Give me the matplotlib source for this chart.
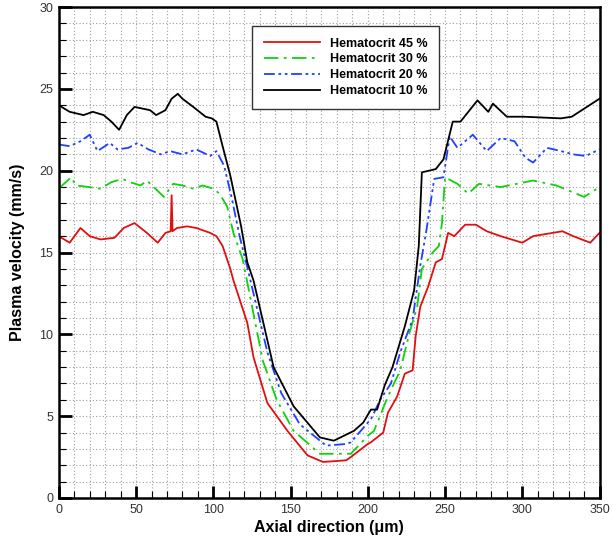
import matplotlib
matplotlib.use("Agg")
import matplotlib.pyplot as plt
from matplotlib.ticker import MultipleLocator

plt.rcParams['font.family'] = ['Liberation Sans', 'DejaVu Sans']

# ---------------------------------------------------------------------
# Data
# ---------------------------------------------------------------------

red_x = [0, 7, 14, 20, 27, 36, 42, 49, 57, 64, 69, 72.4, 73, 73.6, 76.5, 83, 89, 98,
         102, 106, 111, 113, 122, 126, 135, 148, 161, 171, 186, 189, 200, 202, 210,
         213, 219, 224, 229, 231, 234, 239, 244, 248, 252, 256, 263, 270, 277, 286,
         300, 307, 326, 333, 344, 350]
red_y = [16.0, 15.6, 16.5, 16.0, 15.8, 15.9, 16.5, 16.8, 16.2, 15.6, 16.2, 16.3, 18.5,
         16.3, 16.5, 16.6, 16.5, 16.2, 16.0, 15.4, 14.0, 13.3, 10.7, 8.6, 5.8, 4.1,
         2.6, 2.2, 2.3, 2.5, 3.3, 3.4, 4.0, 5.2, 6.2, 7.6, 7.8, 9.9, 11.7, 12.9, 14.4,
         14.6, 16.2, 16.0, 16.7, 16.7, 16.3, 16.0, 15.6, 16.0, 16.3, 16.0, 15.6, 16.2]

green_x = [0, 1, 8, 11, 20, 27, 34, 41, 46, 53, 57, 68, 74, 80, 87, 93, 100, 104, 109,
           113, 119, 132, 141, 152, 169, 181, 189, 200, 204, 213, 221, 227, 232, 235,
           242, 246, 248, 250, 258, 265, 272, 286, 307, 322, 340, 350]
green_y = [19.0, 19.0, 19.6, 19.1, 19.0, 18.9, 19.3, 19.5, 19.3, 19.1, 19.4, 18.4, 19.2,
           19.1, 18.9, 19.1, 18.9, 18.6, 17.8, 16.2, 14.6, 8.4, 6.0, 4.1, 2.7, 2.7, 2.7,
           3.8, 4.1, 6.2, 7.8, 10.1, 11.7, 14.0, 15.0, 15.4, 16.8, 19.6, 19.2, 18.6,
           19.2, 19.0, 19.4, 19.1, 18.4, 19.0]

blue_x = [0, 7, 14, 20, 25, 33, 38, 45, 51, 58, 66, 72, 80, 89, 98, 102, 107, 112, 117,
          122, 135, 144, 156, 173, 186, 189, 200, 202, 208, 215, 221, 229, 234, 238,
          243, 249, 253, 258, 268, 277, 286, 295, 302, 307, 316, 325, 333, 341, 350]
blue_y = [21.6, 21.5, 21.8, 22.2, 21.2, 21.7, 21.3, 21.4, 21.7, 21.3, 21.0, 21.2, 21.0,
          21.3, 20.9, 21.2, 20.3, 18.3, 16.0, 14.1, 8.9, 6.4, 4.5, 3.2, 3.3, 3.4, 4.6,
          4.8, 6.0, 7.0, 8.9, 10.9, 14.2, 16.4, 19.5, 19.6, 22.1, 21.4, 22.2, 21.2,
          22.0, 21.8, 20.8, 20.5, 21.4, 21.2, 21.0, 20.9, 21.3]

black_x = [0, 7, 16, 22, 29, 34, 39, 44, 49, 59, 63, 69, 73, 77, 80, 87, 95, 99, 102,
           106, 111, 118, 122, 126, 139, 152, 169, 178, 191, 197, 202, 206, 211, 216,
           224, 230, 233, 235, 244, 249, 255, 260, 271, 278, 281, 290, 301, 325, 332, 350]
black_y = [24.0, 23.6, 23.4, 23.6, 23.4, 23.0, 22.5, 23.4, 23.9, 23.7, 23.4, 23.7, 24.4,
           24.7, 24.4, 23.9, 23.3, 23.2, 23.0, 21.5, 19.7, 16.6, 14.4, 13.3, 8.0, 5.6,
           3.7, 3.5, 4.1, 4.6, 5.4, 5.4, 6.9, 8.0, 10.5, 12.7, 15.4, 19.9, 20.1, 20.7,
           23.0, 23.0, 24.3, 23.6, 24.1, 23.3, 23.3, 23.2, 23.3, 24.4]

labels = ["Hematocrit 45 %", "Hematocrit 30 %", "Hematocrit 20 %", "Hematocrit 10 %"]


# ---------------------------------------------------------------------
# Plot
# ---------------------------------------------------------------------

fig = plt.figure(figsize=(6.13, 5.46), dpi=100)
ax = fig.add_axes([0.096, 0.088, 0.882, 0.899])

ax.plot(red_x, red_y, color="#e01010", lw=1.3, label=labels[0])
ax.plot(green_x, green_y, color="#10d010", lw=1.3, dashes=(8, 3, 1.5, 3),
        label=labels[1])
ax.plot(blue_x, blue_y, color="#2040ff", lw=1.3, dashes=(6, 2, 1.5, 2, 1.5, 2),
        label=labels[2])
ax.plot(black_x, black_y, color="black", lw=1.3, label=labels[3])

ax.set_xlim(0, 350)
ax.set_ylim(0, 30)

ax.xaxis.set_major_locator(MultipleLocator(50))
ax.xaxis.set_minor_locator(MultipleLocator(10))
ax.yaxis.set_major_locator(MultipleLocator(5))
ax.yaxis.set_minor_locator(MultipleLocator(1))

ax.grid(True, which="both", color="#a0a0a0", linestyle=(0, (1, 2)), lw=0.8)
ax.tick_params(which="major", direction="in", length=9, width=2,
               labelsize=9, labelcolor="#333333", pad=4)
ax.tick_params(which="minor", direction="in", length=5, width=0.8)
ax.tick_params(top=False, right=False, which="both")

for s in ax.spines.values():
    s.set_linewidth(1.8)

ax.set_xlabel("Axial direction (\u03bcm)", fontsize=11.5, fontweight="bold", labelpad=3)
ax.set_ylabel("Plasma velocity (mm/s)", fontsize=11.5, fontweight="bold", labelpad=10)

leg = ax.legend(loc="upper left", bbox_to_anchor=(0.357, 0.962), borderaxespad=0,
                prop={"weight": "bold", "size": 9}, fancybox=False,
                edgecolor="#333333", framealpha=1, handlelength=4.5,
                borderpad=0.95, labelspacing=0.3, handletextpad=0.8)
leg.get_frame().set_linewidth(1.0)

fig.savefig("out.png", dpi=100)
